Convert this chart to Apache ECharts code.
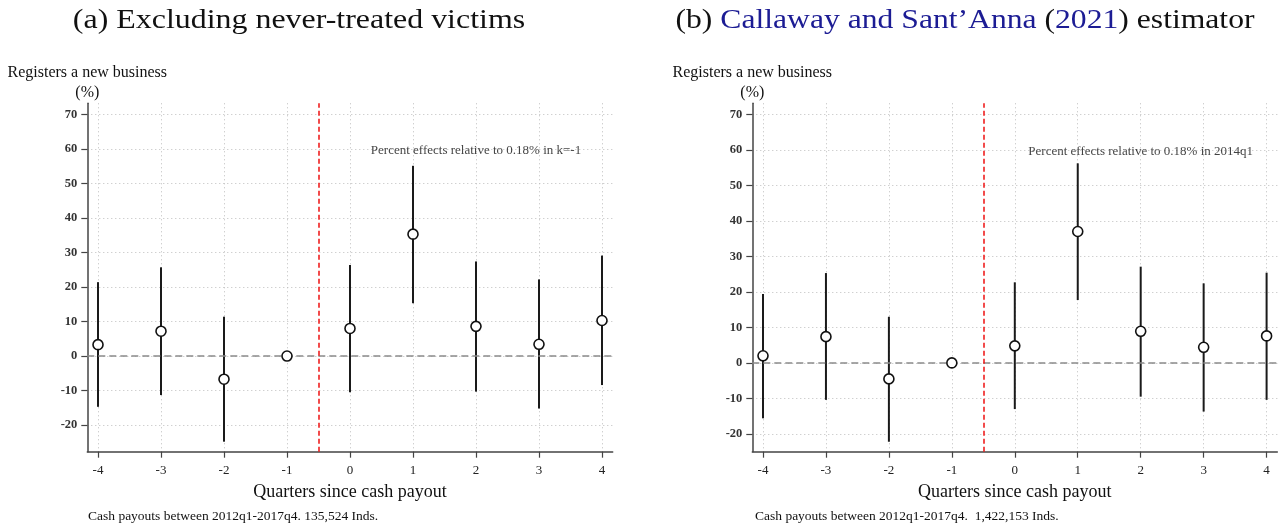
<!DOCTYPE html>
<html><head><meta charset="utf-8">
<script src="https://cdn.jsdelivr.net/npm/echarts@6.0.0/dist/echarts.min.js"></script>
<style>html,body{margin:0;padding:0;background:#fff}#c{width:1283px;height:525px}</style>
</head><body><div id="c"></div>
<script>
const quarters = [-4, -3, -2, -1, 0, 1, 2, 3, 4];
const xTicks = [-4, -3, -2, -1, 0, 1, 2, 3, 4];
const yTicks = [-20, -10, 0, 10, 20, 30, 40, 50, 60, 70];
// Panel (a)
const estA = [3.3, 7.2, -6.7, 0, 8.0, 35.3, 8.6, 3.4, 10.3];
const loA  = [-14.7, -11.3, -24.8, null, -10.5, 15.3, -10.3, -15.2, -8.4];
const hiA  = [21.4, 25.7, 11.4, null, 26.4, 55.1, 27.4, 22.2, 29.1];
// Panel (b)
const estB = [2.0, 7.4, -4.5, 0, 4.8, 37.0, 8.9, 4.4, 7.6];
const loB  = [-15.6, -10.4, -22.2, null, -13.0, 17.7, -9.5, -13.7, -10.4];
const hiB  = [19.4, 25.3, 13.0, null, 22.7, 56.2, 27.1, 22.4, 25.4];

const noteA = 'Percent effects relative to 0.18% in k=-1';
const noteB = 'Percent effects relative to 0.18% in 2014q1';
const footA = 'Cash payouts between 2012q1-2017q4. 135,524 Inds.';
const footB = 'Cash payouts between 2012q1-2017q4.  1,422,153 Inds.';
const yName = 'Registers a new business\n(%)';
const xName = 'Quarters since cash payout';

const FF = 'Liberation Serif, Times New Roman, serif';
const DOT = { type: [1, 3], color: '#bdbdbd', width: 1 };

function xAxisDef(gi) {
  return {
    type: 'value', gridIndex: gi, min: -4.17, max: 4.17,
    axisLine: { show: true, onZero: false, lineStyle: { color: '#444', width: 1.5 } },
    axisTick: { show: true, customValues: xTicks, length: 6, lineStyle: { color: '#444', width: 1.2 } },
    axisLabel: { customValues: xTicks, fontFamily: FF, fontSize: 13, color: '#222', margin: 12 },
    splitLine: { show: true, lineStyle: DOT },
    name: xName, nameLocation: 'middle', nameGap: 32,
    nameTextStyle: { fontFamily: FF, fontSize: 18, color: '#111' }
  };
}
function yAxisDef(gi, min, max) {
  return {
    type: 'value', gridIndex: gi, min: min, max: max,
    axisLine: { show: true, onZero: false, lineStyle: { color: '#444', width: 1.5 } },
    axisTick: { show: true, customValues: yTicks, length: 6, lineStyle: { color: '#444', width: 1.2 } },
    axisLabel: { customValues: yTicks, fontFamily: FF, fontSize: 12.5, fontWeight: 'bold', color: '#333', margin: 10 },
    splitLine: { show: true, lineStyle: DOT },
    name: yName, nameLocation: 'end', nameGap: 1,
    nameTextStyle: { fontFamily: FF, fontSize: 16, color: '#111', align: 'center', verticalAlign: 'bottom', lineHeight: 19.5 }
  };
}
function ciSeries(gi, lo, hi) {
  const data = quarters.map((q, i) => [q, lo[i], hi[i]]).filter(d => d[1] !== null);
  return {
    type: 'custom', xAxisIndex: gi, yAxisIndex: gi, z: 2, silent: true,
    data: data,
    renderItem: function (params, api) {
      const p1 = api.coord([api.value(0), api.value(1)]);
      const p2 = api.coord([api.value(0), api.value(2)]);
      return { type: 'line', shape: { x1: p1[0], y1: p1[1], x2: p2[0], y2: p2[1] },
               style: { stroke: '#1a1a1a', lineWidth: 2 } };
    },
    markLine: {
      silent: true, symbol: ['none', 'none'], label: { show: false }, animation: false,
      data: [
        { yAxis: 0, lineStyle: { color: '#8a8a8a', type: [7, 4], width: 1.6 } },
        { xAxis: -0.5, lineStyle: { color: '#ee1111', type: [5, 3], width: 1.5 } }
      ]
    }
  };
}
function ptSeries(gi, est) {
  return {
    type: 'scatter', xAxisIndex: gi, yAxisIndex: gi, z: 5, silent: true,
    data: quarters.map((q, i) => [q, est[i]]),
    symbol: 'circle', symbolSize: 10,
    itemStyle: { color: '#fff', borderColor: '#111', borderWidth: 1.6, opacity: 1 }
  };
}
function noteSeries(gi, txt) {
  return {
    type: 'scatter', xAxisIndex: gi, yAxisIndex: gi, z: 6, silent: true,
    data: [[2, 59.5]], symbolSize: 0,
    label: { show: true, position: 'inside', formatter: txt, fontFamily: FF, fontSize: 13, color: '#111' }
  };
}

const chart = echarts.init(document.getElementById('c'), null, { renderer: 'canvas' });
chart.setOption({
  animation: false,
  backgroundColor: '#fff',
  grid: [
    { left: 87.3, top: 103.3, width: 525.4, height: 348.4 },
    { left: 752.3, top: 103.3, width: 525, height: 348.4 }
  ],
  xAxis: [xAxisDef(0), xAxisDef(1)],
  yAxis: [yAxisDef(0, -27.7, 73.2), yAxisDef(1, -25.0, 73.1)],
  series: [
    ciSeries(0, loA, hiA), ptSeries(0, estA), noteSeries(0, noteA),
    ciSeries(1, loB, hiB), ptSeries(1, estB), noteSeries(1, noteB)
  ],
  graphic: [
    { type: 'text', x: 299, y: 21, scaleX: 1.14, style: { text: '(a) Excluding never-treated victims', textAlign: 'center', textVerticalAlign: 'middle', fontFamily: FF, fontSize: 28, fill: '#111' } },
    { type: 'text', x: 965, y: 21, scaleX: 1.13, style: {
        text: '(b) {b|Callaway and Sant\u2019Anna} ({b|2021}) estimator', textAlign: 'center', textVerticalAlign: 'middle',
        fontFamily: FF, fontSize: 28, fill: '#111',
        rich: { b: { fontFamily: FF, fontSize: 28, fill: '#1c1c94' } } } },
    { type: 'text', x: 88, y: 516, style: { text: footA, textVerticalAlign: 'middle', fontFamily: FF, fontSize: 13.5, fill: '#111' } },
    { type: 'text', x: 755, y: 516, style: { text: footB, textVerticalAlign: 'middle', fontFamily: FF, fontSize: 13.5, fill: '#111' } }
  ]
});
</script></body></html>
